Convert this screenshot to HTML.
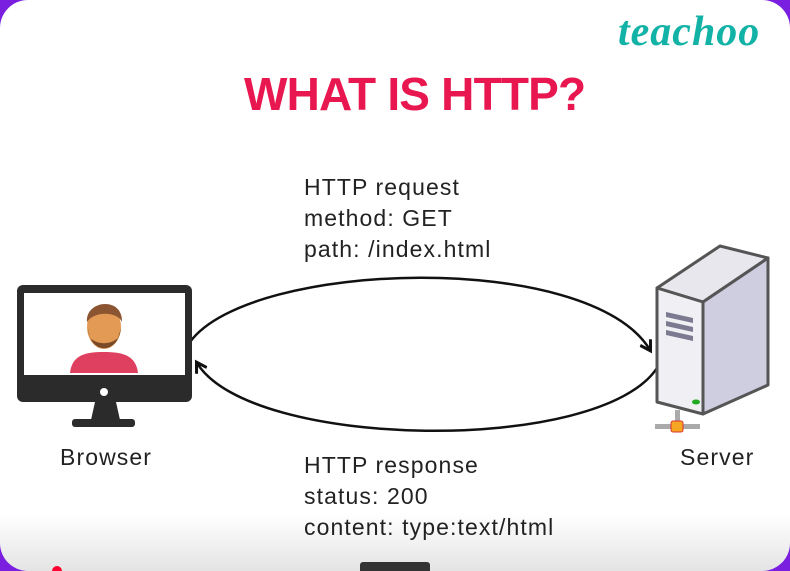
<!DOCTYPE html><html><head><style>
body{margin:0;width:790px;height:571px;overflow:hidden;background:#7a1fe0;font-family:"Liberation Sans",sans-serif}
.card{position:absolute;left:0;top:0;width:790px;height:571px;background:linear-gradient(#fff 90%,#e4e4e4);border-radius:28px}
.t{position:absolute;color:#222;font-size:23px;line-height:31px;letter-spacing:1.1px}
</style></head><body>
<div class="card"></div>
<div style="position:absolute;left:618px;top:8px;font-family:'Liberation Serif',serif;font-style:italic;font-weight:bold;font-size:42px;color:#12b3a6;letter-spacing:1px">teachoo</div>
<div style="position:absolute;left:244px;top:67px;font-weight:bold;font-size:46px;color:#e8174f;letter-spacing:-0.8px">WHAT IS HTTP?</div>
<div class="t" style="left:304px;top:172px">HTTP request<br>method: GET<br>path: /index.html</div>
<div class="t" style="left:304px;top:450px">HTTP response<br>status: 200<br>content: type:text/html</div>
<div class="t" style="left:60px;top:442px">Browser</div>
<div class="t" style="left:680px;top:442px">Server</div>
<svg width="790" height="571" style="position:absolute;left:0;top:0">
<defs><marker id="a" markerWidth="14" markerHeight="14" refX="10" refY="7" orient="auto" markerUnits="userSpaceOnUse"><path d="M1,1 L11,7 L1,13" fill="none" stroke="#111" stroke-width="3"/></marker></defs>
<path d="M190,342 C250,260 590,250 650,350" fill="none" stroke="#111" stroke-width="2.5" marker-end="url(#a)"/>
<path d="M657,368 C600,455 250,450 197,363" fill="none" stroke="#111" stroke-width="2.5" marker-end="url(#a)"/>
<rect x="17" y="285" width="175" height="117" rx="6" fill="#2b2b2b"/>
<rect x="24" y="293" width="161" height="82" fill="#fff"/>
<circle cx="104" cy="392" r="4" fill="#fff"/>
<path d="M95,402 L116,402 L120,420 L91,420Z" fill="#2b2b2b"/>
<rect x="72" y="419" width="63" height="8" rx="3" fill="#2b2b2b"/>
<path d="M70,373 C72,355 85,352 104,352 C124,352 136,356 138,373Z" fill="#e04060"/>
<ellipse cx="104" cy="327" rx="17" ry="22" fill="#e39a55"/>
<path d="M88,328 C90,355 118,355 121,328 L118,338 C110,345 98,345 90,338Z" fill="#7a4a28"/>
<path d="M87,322 C85,300 123,296 122,322 C118,312 95,310 87,322Z" fill="#8a5530"/>
<polygon points="657,288 720,246 768,258 703,302" fill="#e8e7ee" stroke="#555" stroke-width="3" stroke-linejoin="round"/>
<polygon points="703,302 768,258 768,385 703,414" fill="#cfcde0" stroke="#555" stroke-width="3" stroke-linejoin="round"/>
<polygon points="657,288 703,302 703,414 657,402" fill="#efeff4" stroke="#555" stroke-width="3" stroke-linejoin="round"/>
<polygon points="666,312 693,318 693,323 666,317" fill="#7c7a90"/><polygon points="666,321 693,327 693,332 666,326" fill="#7c7a90"/><polygon points="666,330 693,336 693,341 666,335" fill="#7c7a90"/>
<ellipse cx="696" cy="402" rx="4" ry="2.5" fill="#2a2"/>
<rect x="675" y="410" width="5" height="14" fill="#aaa"/>
<rect x="655" y="424" width="45" height="5" fill="#aaa"/>
<rect x="671" y="421" width="12" height="11" rx="2" fill="#f5a623" stroke="#d33" stroke-width="1"/>
<rect x="360" y="562" width="70" height="12" rx="3" fill="#333"/>
<circle cx="57" cy="571" r="5" fill="#f03"/>
</svg>
</body></html>
